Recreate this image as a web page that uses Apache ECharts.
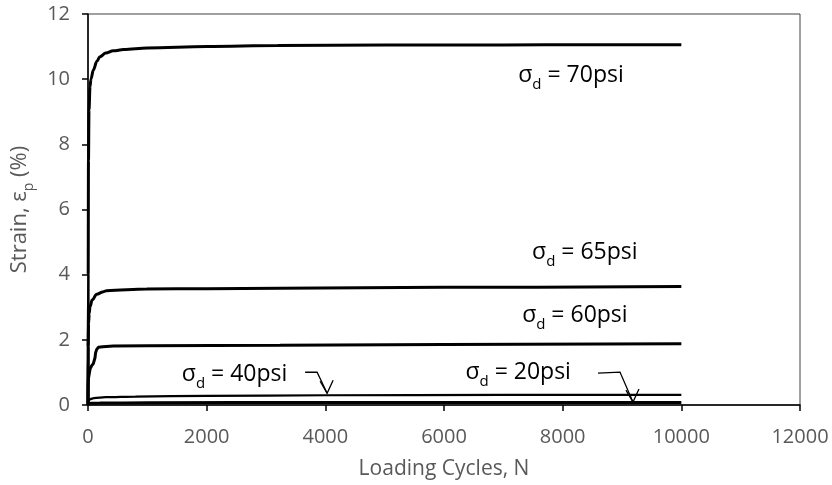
<!DOCTYPE html>
<html>
<head>
<meta charset="utf-8">
<script src="https://cdn.jsdelivr.net/npm/echarts@6/dist/echarts.min.js"></script>
<style>
  html, body { margin: 0; padding: 0; background: #fff; }
  #chart { width: 832px; height: 485px; }
</style>
</head>
<body>
<div id="chart"></div>
<script>
// Permanent strain vs. loading cycles for five deviator stress levels
const xTicks = [0, 2000, 4000, 6000, 8000, 10000, 12000];
const yTicks = [0, 2, 4, 6, 8, 10, 12];

const cycles70 = [0, 3, 8, 17, 34, 50, 90, 150, 202, 300, 427, 600, 1000, 2000, 3200, 5000, 7000, 8400, 10000];
const strain70 = [0, 4.0, 7.5, 9.05, 9.77, 10.0, 10.28, 10.55, 10.69, 10.8, 10.87, 10.91, 10.96, 11.0, 11.03, 11.05, 11.05, 11.06, 11.06];

const cycles65 = [0, 3, 10, 20, 34, 70, 146, 250, 315, 990, 2000, 3235, 6000, 10000];
const strain65 = [0, 1.8, 2.5, 2.8, 3.02, 3.22, 3.4, 3.47, 3.51, 3.56, 3.57, 3.58, 3.61, 3.64];

const cycles60 = [0, 2, 8, 22, 34, 60, 90, 110, 118, 128, 145, 174, 250, 427, 1000, 3235, 6000, 10000];
const strain60 = [0, 0.55, 0.82, 0.97, 1.1, 1.2, 1.27, 1.3, 1.45, 1.6, 1.7, 1.77, 1.79, 1.81, 1.82, 1.83, 1.86, 1.88];

const cycles40 = [0, 5, 20, 35, 100, 300, 800, 2000, 4000, 7000, 10000];
const strain40 = [0, 0.1, 0.15, 0.18, 0.21, 0.24, 0.26, 0.28, 0.3, 0.31, 0.31];

const cycles20 = [0, 10, 50, 200, 1000, 4000, 10000];
const strain20 = [0, 0.03, 0.05, 0.06, 0.07, 0.08, 0.08];

const stressLabels = ['70psi', '65psi', '60psi', '40psi', '20psi'];

const FONT = '"Open Sans", "DejaVu Sans", sans-serif';
const GRAY = '#595959';

function pairs(xs, ys) {
  return xs.map((x, i) => [x, ys[i]]);
}

function curve(name, xs, ys, width, smooth) {
  return {
    name: name,
    type: 'line',
    data: pairs(xs, ys),
    showSymbol: false,
    symbol: 'none',
    silent: true,
    smooth: smooth,
    smoothMonotone: 'x',
    lineStyle: { color: '#000', width: width },
    z: 3
  };
}

const chart = echarts.init(document.getElementById('chart'), null, { renderer: 'canvas' });

const option = {
  animation: false,
  backgroundColor: '#fff',
  grid: {
    left: 88, right: 32, top: 14, bottom: 80,
    show: true, borderColor: '#404040', borderWidth: 1
  },
  xAxis: {
    type: 'value',
    min: xTicks[0], max: xTicks[xTicks.length - 1], interval: xTicks[1] - xTicks[0],
    name: 'Loading Cycles, N',
    nameLocation: 'middle', nameGap: 54,
    nameTextStyle: { color: GRAY, fontSize: 21, fontFamily: FONT },
    axisLine: { show: true, lineStyle: { color: '#000', width: 1.5 } },
    axisTick: { show: true, inside: false, length: 6, lineStyle: { color: '#000', width: 1.5 } },
    axisLabel: { color: GRAY, fontSize: 20, fontFamily: FONT, margin: 22, formatter: v => String(v) },
    splitLine: { show: false }
  },
  yAxis: {
    type: 'value',
    min: yTicks[0], max: yTicks[yTicks.length - 1], interval: yTicks[1] - yTicks[0],
    name: '{n|Strain, ε}{s|p}{n| (%)}',
    nameLocation: 'middle', nameGap: 52, nameRotate: 90,
    nameTextStyle: {
      color: GRAY, fontFamily: FONT,
      rich: {
        n: { fontSize: 22, fontFamily: FONT, color: GRAY, lineHeight: 27, verticalAlign: 'top' },
        s: { fontSize: 14, fontFamily: FONT, color: GRAY, lineHeight: 13, verticalAlign: 'bottom' }
      }
    },
    axisLine: { show: true, lineStyle: { color: '#000', width: 1.5 } },
    axisTick: { show: true, inside: false, length: 6, lineStyle: { color: '#000', width: 1.5 } },
    axisLabel: { color: GRAY, fontSize: 20, fontFamily: FONT, margin: 18, formatter: v => String(v) },
    splitLine: { show: false }
  },
  series: [
    curve(stressLabels[0], cycles70, strain70, 3, 0.35),
    curve(stressLabels[1], cycles65, strain65, 3, 0.35),
    curve(stressLabels[2], cycles60, strain60, 3, false),
    curve(stressLabels[3], cycles40, strain40, 2.2, 0.3),
    curve(stressLabels[4], cycles20, strain20, 3, 0.3)
  ]
};

chart.setOption(option);

// Stress-level labels, anchored in data coordinates [cycles, strain]
const labelAnchors = [
  { text: stressLabels[0], at: [8140, 10.04] },
  { text: stressLabels[1], at: [8374, 4.6] },
  { text: stressLabels[2], at: [8206, 2.67] },
  { text: stressLabels[3], at: [2470, 0.86] },
  { text: stressLabels[4], at: [7250, 0.92] }
];

// Leader arrows for the two lowest curves: tip position in data coordinates
const arrowTips = [
  { tip: [4030, 0.36] },
  { tip: [9185, 0.09] }
];

const richLabel = {
  n: { fontSize: 23, fontFamily: FONT, fill: '#000', lineHeight: 28, verticalAlign: 'top' },
  s: { fontSize: 15, fontFamily: FONT, fill: '#000', lineHeight: 13, verticalAlign: 'bottom' }
};

const graphics = [];
labelAnchors.forEach(function (a) {
  const p = chart.convertToPixel({ gridIndex: 0 }, a.at);
  graphics.push({
    type: 'text',
    x: p[0], y: p[1],
    z: 10,
    style: {
      text: '{n|σ}{s|d}{n| = ' + a.text + '}',
      rich: richLabel,
      align: 'center',
      verticalAlign: 'middle',
      fill: '#000'
    }
  });
});

// leader shape: short dash, then a slanted run down to the tip, with a V head
const leaders = [
  { dash: [-22, -21, -10, -21] },
  { dash: [-35, -29, -13, -30] }
];
arrowTips.forEach(function (a, i) {
  const t = chart.convertToPixel({ gridIndex: 0 }, a.tip);
  const d = leaders[i].dash;
  graphics.push({
    type: 'polyline',
    z: 10,
    shape: { points: [[t[0] + d[0], t[1] + d[1]], [t[0] + d[2], t[1] + d[3]], [t[0], t[1]]] },
    style: { stroke: '#000', lineWidth: 1.3, fill: null }
  });
  graphics.push({
    type: 'polyline',
    z: 10,
    shape: { points: [[t[0] - 7, t[1] - 12], [t[0], t[1]], [t[0] + 6, t[1] - 13]] },
    style: { stroke: '#000', lineWidth: 1.3, fill: null }
  });
});

chart.setOption({ graphic: graphics });
</script>
</body>
</html>
